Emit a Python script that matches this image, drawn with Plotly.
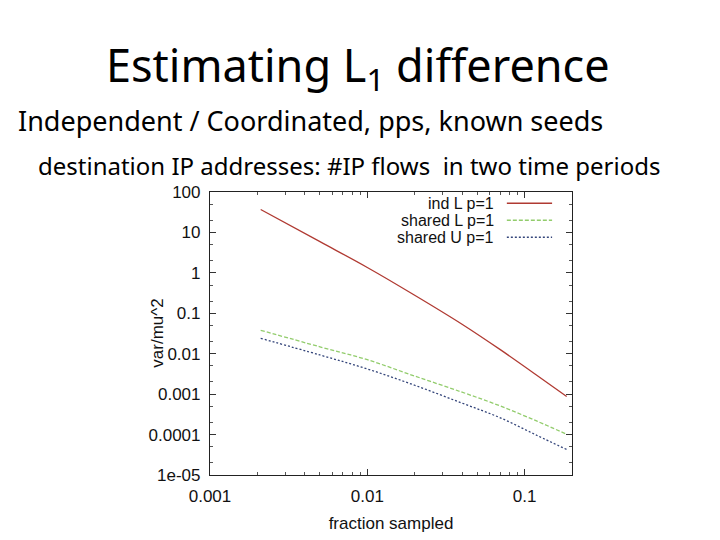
import plotly.graph_objects as go

# fraction sampled (x) and var/mu^2 for each estimator
FRACTION = [0.0021, 0.005, 0.01, 0.02, 0.04, 0.07, 0.12, 0.185]
IND_L = [37, 5.9, 1.36, 0.28, 0.0537, 0.0126, 0.0029, 0.00087]
SHARED_L = [0.038, 0.0148, 0.0071, 0.0028, 0.00112, 0.00051, 0.000214, 0.000102]
SHARED_U = [0.024, 0.0093, 0.0042, 0.00166, 0.0006, 0.00026, 0.000095, 0.0000427]

NAMES = ["ind L p=1", "shared L p=1", "shared U p=1"]
COLORS = ["#b03a32", "#92cc6c", "#34457a"]
DASHES = ["solid", "4px,2px", "2px,2px"]

Y_TICKS = [100, 10, 1, 0.1, 0.01, 0.001, 0.0001, 0.00001]
Y_TEXT = ["100", "10", "1", "0.1", "0.01", "0.001", "0.0001", "1e-05"]
X_TICKS = [0.001, 0.01, 0.1]
X_TEXT = ["0.001", "0.01", "0.1"]

HELV = "Liberation Sans, Arial, sans-serif"
AX_FONT = dict(family=HELV, size=17, color="#111")
SLIDE_FONT = "Noto Sans, DejaVu Sans, sans-serif"

fig = go.Figure()
for ys, name, color, dash in zip([IND_L, SHARED_L, SHARED_U], NAMES, COLORS, DASHES):
    fig.add_trace(go.Scatter(x=FRACTION, y=ys, mode="lines", name=name,
                             line=dict(color=color, width=1.3, dash=dash,
                                       shape="spline", smoothing=1.0),
                             showlegend=False))

axis_common = dict(type="log", showgrid=False, zeroline=False, showline=True,
                   linecolor="#222", linewidth=1.2, mirror="allticks",
                   ticks="inside", ticklen=6, tickcolor="#333",
                   tickfont=AX_FONT, ticklabelstandoff=5)

fig.update_xaxes(**axis_common, range=[-3, -0.699], tickvals=X_TICKS,
                 ticktext=X_TEXT,
                 minor=dict(ticks="inside", ticklen=3, tickcolor="#555",
                            dtick="D1", showgrid=False),
                 title=dict(text="fraction sampled", font=AX_FONT, standoff=12))
fig.update_yaxes(**axis_common, range=[-5, 2], tickvals=Y_TICKS,
                 ticktext=Y_TEXT,
                 minor=dict(ticks="inside", ticklen=3, tickcolor="#555",
                            dtick="D2", showgrid=False))

# y title sits close to the axis, beside the short tick labels
fig.add_annotation(xref="paper", yref="paper", x=-0.146, y=0.5,
                   text="var/mu^2", textangle=-90, showarrow=False,
                   xanchor="center", yanchor="middle", font=AX_FONT)

# gnuplot-style key: right-aligned label followed by a short line sample
for i, (name, color, dash) in enumerate(zip(NAMES, COLORS, DASHES)):
    yk = 0.96 - i * 0.06
    fig.add_annotation(xref="paper", yref="paper", x=0.79, y=yk, text=name,
                       showarrow=False, xanchor="right", yanchor="middle",
                       font=dict(family=HELV, size=16, color="#111"))
    fig.add_shape(type="line", xref="paper", yref="paper", x0=0.82, x1=0.945,
                  y0=yk, y1=yk, line=dict(color=color, width=1.6, dash=dash))

fig.add_annotation(xref="paper", yref="paper", x=0.41, y=1.442,
                   xanchor="center", yanchor="middle",
                   text="Estimating L<sub>1</sub> difference", showarrow=False,
                   font=dict(family=SLIDE_FONT, size=45, color="#000"))
fig.add_annotation(xref="paper", yref="paper", x=0.278, y=1.251,
                   xanchor="center", yanchor="middle",
                   text="Independent / Coordinated, pps, known seeds",
                   showarrow=False,
                   font=dict(family=SLIDE_FONT, size=27, color="#000"))
fig.add_annotation(xref="paper", yref="paper", x=0.385, y=1.095,
                   xanchor="center", yanchor="middle",
                   text="destination IP addresses: #IP flows  in two time periods",
                   showarrow=False,
                   font=dict(family=SLIDE_FONT, size=24, color="#000"))

fig.update_layout(width=720, height=540, paper_bgcolor="white",
                  plot_bgcolor="white",
                  margin=dict(l=202, r=156, t=184, b=73))

fig.write_html("out.html")
